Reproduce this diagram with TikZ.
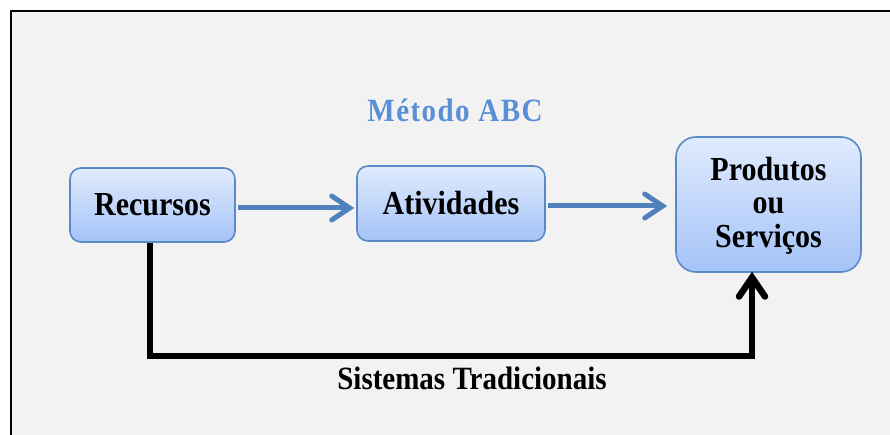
\documentclass[tikz,border=0pt]{standalone}
\usepackage{fontspec}
\usepackage{graphicx}
\setmainfont{Liberation Serif}
\usetikzlibrary{arrows.meta}
\definecolor{bgpanel}{HTML}{F2F2F2}
\definecolor{boxtop}{HTML}{E0EBFD}
\definecolor{boxbot}{HTML}{A4C3F8}
\definecolor{boxline}{HTML}{5A8AC6}
\definecolor{flowblue}{HTML}{4F81BD}
\definecolor{titleblue}{HTML}{588FD6}
\newcommand{\vst}[1]{\scalebox{1}[1.12]{#1}}
\tikzset{
  procbox/.style={draw=boxline, line width=1.6pt, rounded corners=11pt,
    top color=boxtop, bottom color=boxbot, align=center,
    font=\fontsize{30}{34}\selectfont\bfseries, inner sep=0pt},
  flowarrow/.style={draw=flowblue, line width=5pt,
    -{Straight Barb[length=18pt, width=24pt, line cap=round]},
    shorten <=2pt, shorten >=2pt},
  tradarrow/.style={draw=black, line width=6.5pt,
    -{Straight Barb[length=19pt, width=26pt, line cap=round]}},
  labeltext/.style={font=\fontsize{29}{32}\selectfont\bfseries, inner sep=0pt}
}
\begin{document}
\begin{tikzpicture}[x=1pt, y=-1pt]
\useasboundingbox (0,0) rectangle (890,435);
\fill[white] (0,0) rectangle (890,435);
\fill[bgpanel] (11,11) rectangle (890,435);
\draw[line width=2.4pt, line cap=rect] (11,435) -- (11,11) -- (890,11);

\node[labeltext, text=titleblue] (title) at (455,110)
  {\addfontfeature{LetterSpace=5}\vst{Método ABC}};

\node[procbox, minimum width=165pt, minimum height=74pt] (rec) at (152.5,205) {\vst{Recursos}};
\node[procbox, minimum width=188pt, minimum height=75pt] (ativ) at (451,203.5) {\vst{Atividades}};
\node[procbox, minimum width=185pt, minimum height=135pt, rounded corners=20pt] (prod) at (768.5,204.5)
  {\raisebox{-9pt}[0pt][0pt]{\renewcommand{\arraystretch}{0.98}%
   \begin{tabular}{@{}c@{}}\vst{Produtos}\\\vst{ou}\\\vst{Serviços}\end{tabular}}};

\draw[flowarrow] (rec.east |- 0,208) -- (ativ.west |- 0,208);
\draw[flowarrow] (ativ.east |- 0,206) -- ([xshift=-6pt]prod.west |- 0,206);

\coordinate (c1) at (150,356);
\coordinate (c2) at (752,356);
\draw[tradarrow] (rec.south -| c1) -- (c1) -- (c2) -- ([yshift=1pt]prod.south -| c2);

\node[labeltext, text=black] (trad) at (472,378) {\vst{Sistemas Tradicionais}};
\end{tikzpicture}
\end{document}
